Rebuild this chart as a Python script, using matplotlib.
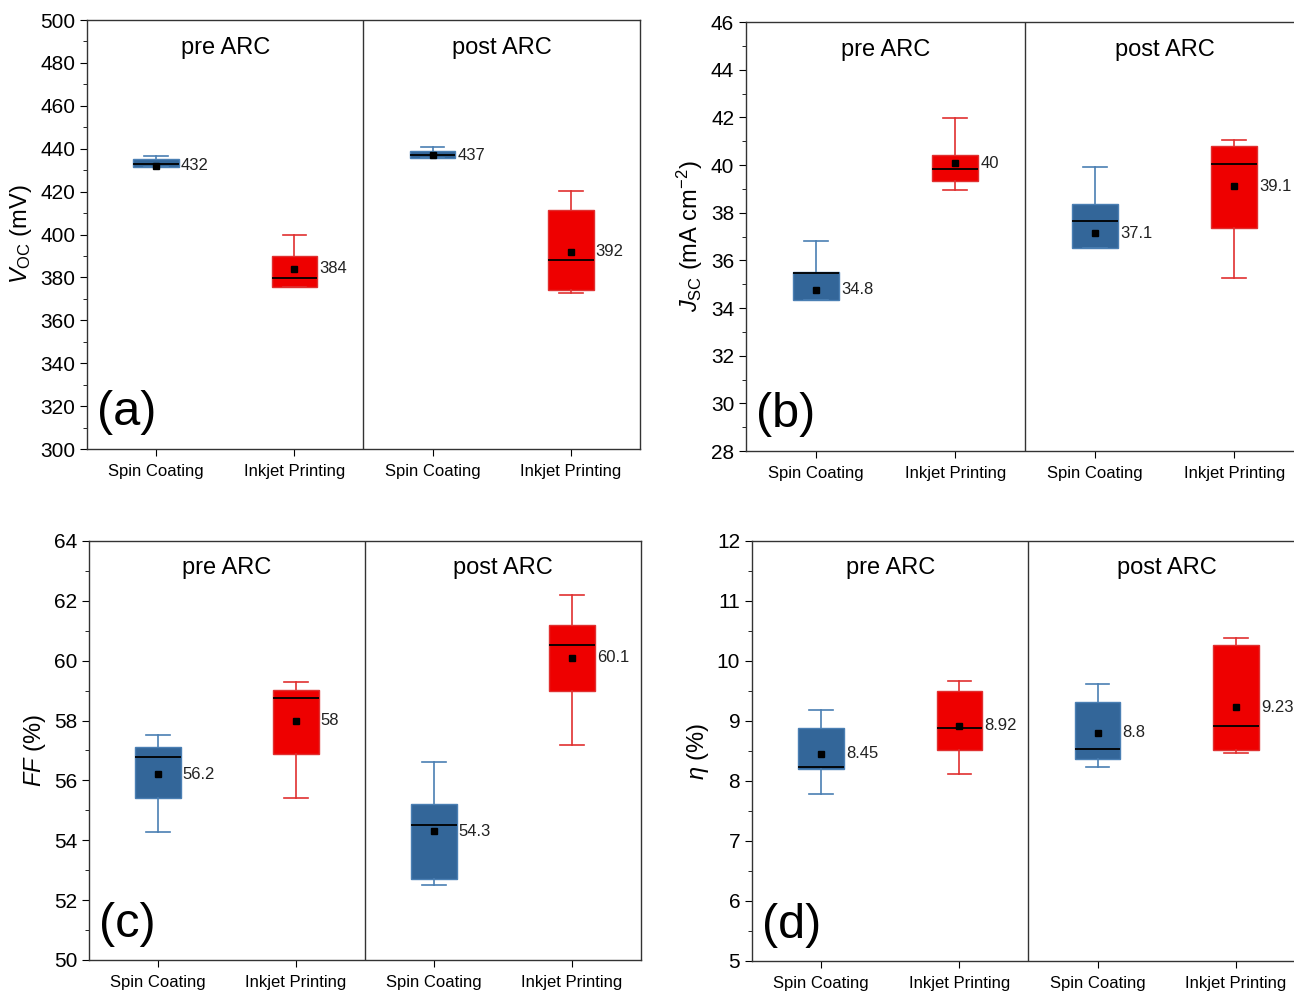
import matplotlib
matplotlib.use("Agg")
import matplotlib.pyplot as plt

plt.rcParams['font.family'] = ['Liberation Sans', 'DejaVu Sans']
plt.rcParams['mathtext.fontset'] = 'custom'
plt.rcParams['mathtext.rm'] = 'Liberation Sans'
plt.rcParams['mathtext.it'] = 'Liberation Sans:italic'

groups = ["Spin Coating", "Inkjet Printing", "Spin Coating", "Inkjet Printing"]
stages = ["pre ARC", "post ARC"]

# whislo, q1, med, q3, whishi, mean  (order: pre spin, pre inkjet, post spin, post inkjet)
voc_lo = [431.5, 375.6, 435.6, 372.7]
voc_q1 = [431.6, 375.7, 435.7, 374.2]
voc_med = [433.1, 379.8, 437.3, 387.9]
voc_q3 = [435.2, 390.2, 439.1, 411.3]
voc_hi = [436.5, 400.0, 441.0, 420.3]
voc_mean = [432, 384, 437, 392]
voc_lab = ["432", "384", "437", "392"]

jsc_lo = [34.35, 38.97, 36.52, 35.27]
jsc_q1 = [34.35, 39.31, 36.52, 37.34]
jsc_med = [35.47, 39.85, 37.67, 40.06]
jsc_q3 = [35.50, 40.41, 38.37, 40.80]
jsc_hi = [36.83, 41.97, 39.91, 41.06]
jsc_mean = [34.77, 40.08, 37.13, 39.11]
jsc_lab = ["34.8", "40", "37.1", "39.1"]

ff_lo = [54.29, 55.41, 52.49, 57.19]
ff_q1 = [55.40, 56.89, 52.70, 58.99]
ff_med = [56.79, 58.74, 54.50, 60.54]
ff_q3 = [57.10, 59.01, 55.21, 61.19]
ff_hi = [57.51, 59.29, 56.60, 62.18]
ff_mean = [56.2, 58.0, 54.3, 60.1]
ff_lab = ["56.2", "58", "54.3", "60.1"]

eta_lo = [7.79, 8.12, 8.23, 8.47]
eta_q1 = [8.20, 8.52, 8.37, 8.52]
eta_med = [8.24, 8.89, 8.54, 8.91]
eta_q3 = [8.89, 9.50, 9.32, 10.27]
eta_hi = [9.18, 9.67, 9.61, 10.39]
eta_mean = [8.45, 8.92, 8.80, 9.23]
eta_lab = ["8.45", "8.92", "8.8", "9.23"]

blue = '#336699'
blue_line = '#4a7fb3'
red = '#ee0000'
red_line = '#e03030'

fig = plt.figure(figsize=(12.94, 9.91), dpi=100)


def panel(rect, lo, q1, med, q3, hi, mean, labs, ylim, ystep, ylabel, tag):
    ax = fig.add_axes(rect)
    pos = [1, 2, 3, 4]
    for i in range(4):
        st = [dict(whislo=lo[i], q1=q1[i], med=med[i], q3=q3[i], whishi=hi[i],
                   mean=mean[i], fliers=[])]
        fc = blue if i % 2 == 0 else red
        lc = blue_line if i % 2 == 0 else red_line
        ax.bxp(st, positions=[pos[i]], widths=0.33, patch_artist=True,
               showmeans=True, showfliers=False,
               boxprops=dict(facecolor=fc, edgecolor=lc, linewidth=1),
               whiskerprops=dict(color=lc, linewidth=1.2),
               capprops=dict(color=lc, linewidth=1.2),
               capwidths=0.17,
               medianprops=dict(color='black', linewidth=1.3),
               meanprops=dict(marker='s', markerfacecolor='black',
                              markeredgecolor='black', markersize=4))
        ax.text(pos[i] + 0.18, mean[i], labs[i], fontsize=12, va='center',
                ha='left', color='#222222')
    ax.axvline(2.5, color='#333333', linewidth=1)
    ax.set_xlim(0.5, 4.5)
    ax.set_ylim(*ylim)
    ax.set_xticks(pos)
    ax.set_xticklabels(groups, fontsize=12)
    ax.tick_params(axis='x', length=5, pad=6)
    major = [ylim[0] + k * ystep for k in range(int(round((ylim[1] - ylim[0]) / ystep)) + 1)]
    ax.set_yticks(major)
    minor = [m + ystep / 2 for m in major[:-1]]
    ax.set_yticks(minor, minor=True)
    ax.set_yticklabels([('%g' % m) for m in major], fontsize=15)
    ax.tick_params(axis='y', which='major', length=5)
    ax.tick_params(axis='y', which='minor', length=3)
    ax.set_ylabel(ylabel, fontsize=17)
    for s in ax.spines.values():
        s.set_linewidth(1)
        s.set_color('#333333')
    ax.text(1.5, 0.935, stages[0], transform=ax.get_xaxis_transform(),
            ha='center', va='center', fontsize=17)
    ax.text(3.5, 0.935, stages[1], transform=ax.get_xaxis_transform(),
            ha='center', va='center', fontsize=17)
    ax.text(0.57, 0.085, tag, transform=ax.get_xaxis_transform(),
            ha='left', va='center', fontsize=35)
    return ax


panel([0.0672, 0.5469, 0.4274, 0.4329], voc_lo, voc_q1, voc_med, voc_q3, voc_hi,
      voc_mean, voc_lab, (300, 500), 20, r'$V_{\mathrm{OC}}$ (mV)', '(a)')
panel([0.5765, 0.5449, 0.4312, 0.4329], jsc_lo, jsc_q1, jsc_med, jsc_q3, jsc_hi,
      jsc_mean, jsc_lab, (28, 46), 2, r'$J_{\mathrm{SC}}$ (mA cm$^{-2}$)', '(b)')
panel([0.0688, 0.0313, 0.4266, 0.4228], ff_lo, ff_q1, ff_med, ff_q3, ff_hi,
      ff_mean, ff_lab, (50, 64), 2, r'$FF$ (%)', '(c)')
panel([0.5811, 0.0303, 0.4274, 0.4238], eta_lo, eta_q1, eta_med, eta_q3, eta_hi,
      eta_mean, eta_lab, (5, 12), 1, r'$\eta$ (%)', '(d)')

fig.savefig("out.png", dpi=100)
